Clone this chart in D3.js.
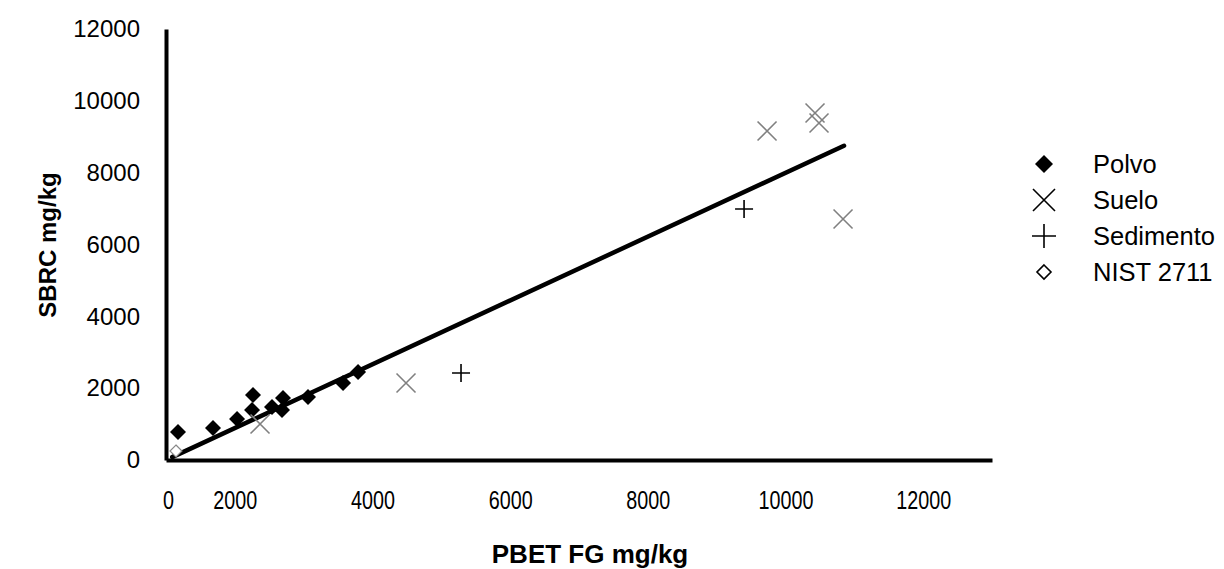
<!DOCTYPE html>
<html><head><meta charset="utf-8">
<script src="https://cdn.jsdelivr.net/npm/d3@7"></script>
<style>body{margin:0;background:#fff}svg{display:block}text{font-family:"Liberation Sans",Arial,sans-serif}</style>
</head><body><svg id="c" width="1224" height="569"></svg>
<script>
const xTicks=[0,2000,4000,6000,8000,10000,12000];
const yTicks=[0,2000,4000,6000,8000,10000,12000];
const polvoX=[174,683,1032,1264,1250,1540,1700,1685,2063,2572,2790];
const polvoY=[780,891,1141,1810,1390,1475,1726,1392,1754,2144,2450];
const sueloX=[1366,3487,8732,9429,9487,9836];
const sueloY=[1002,2144,9159,9660,9382,6709];
const sedX=[4286,8398];
const sedY=[2422,6988];
const nistX=[145];
const nistY=[250];
const trendX=[90,9850];
const trendY=[80,8750];
const legendLabels=["Polvo","Suelo","Sedimento","NIST 2711"];

const svg=d3.select("#c");
const x=d3.scaleLinear().domain([0,12000]).range([166,992]);
const y=d3.scaleLinear().domain([0,12000]).range([460,29]);
const xShift=x(1000)-x(0);

// axes
const gx=svg.append("g").attr("transform","translate(0,460)")
 .call(d3.axisBottom(x).tickValues(xTicks).tickSize(0).tickPadding(0).tickFormat(d3.format("d")));
gx.select(".domain").attr("stroke","#000").attr("stroke-width",4);
gx.selectAll(".tick text").attr("font-size",26).attr("fill","#000").attr("dy",0).attr("y",0)
 .attr("transform",d=>`translate(${d===0?2:-xShift},49) scale(0.76,1)`);
const gy=svg.append("g").attr("transform","translate(166,0)")
 .call(d3.axisLeft(y).tickValues(yTicks).tickSize(0).tickPadding(26).tickFormat(d3.format("d")));
gy.select(".domain").attr("stroke","#000").attr("stroke-width",4);
gy.selectAll("text").attr("font-size",24).attr("fill","#000");

svg.append("text").attr("x",590).attr("y",563).attr("text-anchor","middle")
 .attr("font-size",26).attr("font-weight","bold").text("PBET FG mg/kg");
svg.append("text").attr("transform","translate(56,245) rotate(-90)").attr("text-anchor","middle")
 .attr("font-size",24).attr("font-weight","bold").text("SBRC mg/kg");

// trendline
svg.append("line").attr("x1",x(trendX[0])).attr("y1",y(trendY[0])).attr("x2",x(trendX[1])).attr("y2",y(trendY[1]))
 .attr("stroke","#000").attr("stroke-width",4.5).attr("stroke-linecap","round");

const diamond=(s)=>`M0,${-s}L${s},0L0,${s}L${-s},0Z`;
const cross=(s)=>`M${-s},${-s}L${s},${s}M${-s},${s}L${s},${-s}`;
const plus=(s)=>`M${-s},0L${s},0M0,${-s}L0,${s}`;

svg.append("g").selectAll("path").data(nistX.map((v,i)=>[v,nistY[i]])).join("path")
 .attr("transform",d=>`translate(${x(d[0])},${y(d[1])})`).attr("d",diamond(6))
 .attr("fill","#fff").attr("stroke","#888").attr("stroke-width",1.2);
svg.append("g").selectAll("path").data(polvoX.map((v,i)=>[v,polvoY[i]])).join("path")
 .attr("transform",d=>`translate(${x(d[0])},${y(d[1])})`).attr("d",diamond(8)).attr("fill","#000");
svg.append("g").selectAll("path").data(sueloX.map((v,i)=>[v,sueloY[i]])).join("path")
 .attr("transform",d=>`translate(${x(d[0])},${y(d[1])})`).attr("d",cross(9.5))
 .attr("fill","none").attr("stroke","#808080").attr("stroke-width",1.6);
svg.append("g").selectAll("path").data(sedX.map((v,i)=>[v,sedY[i]])).join("path")
 .attr("transform",d=>`translate(${x(d[0])},${y(d[1])})`).attr("d",plus(9))
 .attr("fill","none").attr("stroke","#000").attr("stroke-width",1.6);

// legend
const lg=svg.append("g");
const ly=[164,200,236,272];
const markers=[
 g=>g.append("path").attr("d",diamond(9)).attr("fill","#000"),
 g=>g.append("path").attr("d",cross(11)).attr("fill","none").attr("stroke","#000").attr("stroke-width",1.6),
 g=>g.append("path").attr("d",plus(12)).attr("fill","none").attr("stroke","#000").attr("stroke-width",1.6),
 g=>g.append("path").attr("d",diamond(7)).attr("fill","#fff").attr("stroke","#000").attr("stroke-width",1.6)
];
legendLabels.forEach((t,i)=>{
 const g=lg.append("g").attr("transform",`translate(1044,${ly[i]})`);
 markers[i](g);
 g.append("text").attr("x",49).attr("y",0).attr("dy","0.35em").attr("font-size",25.5).text(t);
});
</script></body></html>
